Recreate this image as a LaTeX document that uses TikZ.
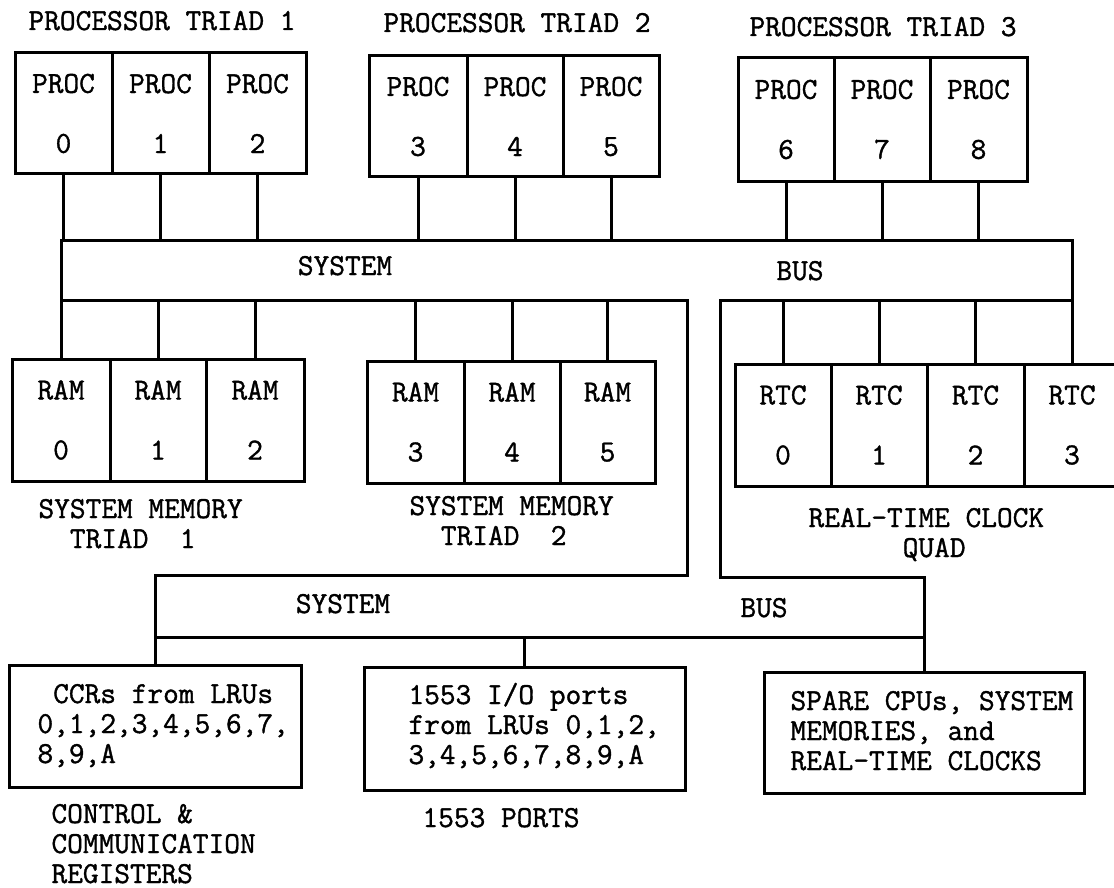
\documentclass[tikz,border=0pt]{standalone}
\usepackage{fontspec}
\newfontfamily\typfont[FakeBold=1.2]{Latin Modern Mono}
\begin{document}
\begin{tikzpicture}[x=1pt,y=-1pt,line width=3pt,
  every node/.style={font=\fontsize{30.5}{30}\selectfont\typfont, inner sep=0pt},
  cell/.style={draw, align=center, minimum height=122pt},
  tbox/.style={draw},
  lbl/.style={anchor=base west, align=left},
  ctr/.style={anchor=base}]
\useasboundingbox (0,0) rectangle (1114,888);
% titles
\node[lbl] (t1) at (27,30) {PROCESSOR TRIAD 1};
\node[lbl] (t2) at (382,32) {PROCESSOR TRIAD 2};
\node[lbl] (t3) at (748,36) {PROCESSOR TRIAD 3};
% processors
\node[cell, minimum width=97pt, minimum height=121pt] (p0) at (63.5,113.5) {PROC\\[30pt]0};
\node[cell, minimum width=97pt, minimum height=121pt] (p1) at (160.5,113.5) {PROC\\[30pt]1};
\node[cell, minimum width=97pt, minimum height=121pt] (p2) at (257.5,113.5) {PROC\\[30pt]2};
\node[cell, minimum width=98pt, minimum height=121pt] (p3) at (418,116.5) {PROC\\[30pt]3};
\node[cell, minimum width=96pt, minimum height=121pt] (p4) at (515,116.5) {PROC\\[30pt]4};
\node[cell, minimum width=96pt, minimum height=121pt] (p5) at (611,116.5) {PROC\\[30pt]5};
\node[cell, minimum width=96pt, minimum height=123pt] (p6) at (786,119.5) {PROC\\[30pt]6};
\node[cell, minimum width=96pt, minimum height=123pt] (p7) at (882,119.5) {PROC\\[30pt]7};
\node[cell, minimum width=97pt, minimum height=123pt] (p8) at (978.5,119.5) {PROC\\[30pt]8};
% RAMs
\node[cell, minimum width=98pt] (r0) at (61,420) {RAM\\[30pt]0};
\node[cell, minimum width=96pt] (r1) at (158,420) {RAM\\[30pt]1};
\node[cell, minimum width=98pt] (r2) at (255,420) {RAM\\[30pt]2};
\node[cell, minimum width=97pt] (r3) at (415.5,422) {RAM\\[30pt]3};
\node[cell, minimum width=96pt] (r4) at (512,422) {RAM\\[30pt]4};
\node[cell, minimum width=95pt] (r5) at (607.5,422) {RAM\\[30pt]5};
% RTCs
\node[cell, minimum width=96pt] (c0) at (783,425) {RTC\\[30pt]0};
\node[cell, minimum width=96pt] (c1) at (879,425) {RTC\\[30pt]1};
\node[cell, minimum width=97pt] (c2) at (975.5,425) {RTC\\[30pt]2};
\node[cell, minimum width=96pt] (c3) at (1072,425) {RTC\\[30pt]3};
% group labels (anchored at baseline of last line)
\node[lbl] (sm1) at (37,548) {SYSTEM MEMORY\\\ \ TRIAD\ \ 1};
\node[lbl] (sm2) at (408,545) {SYSTEM MEMORY\\\ \ TRIAD\ \ 2};
\node[lbl] (rq) at (807,557) {REAL-TIME CLOCK\\\ \ \ \ \ \ QUAD};
% bus coordinates
\coordinate (utop) at (0,240);
\coordinate (ubot) at (0,300);
\coordinate (mL) at (687,575);
\coordinate (mR) at (720,577);
\coordinate (lbot) at (0,637);
% lower boxes
\node[tbox, minimum width=292pt, minimum height=122pt] (ccr) at (155,726) {};
\node[tbox, minimum width=321pt, minimum height=123pt] (io) at (524.5,728.5) {};
\node[tbox, minimum width=320pt, minimum height=121pt] (spare) at (924,732.5) {};
\node[lbl] (ccrt) at (36,763) {\phantom{C}CCRs from LRUs\\0,1,2,3,4,5,6,7,\\8,9,A};
\node[lbl] (iot) at (407,764) {1553 I/O ports\\from LRUs 0,1,2,\\3,4,5,6,7,8,9,A};
\node[lbl] (sparet) at (789,770) {SPARE CPUs, SYSTEM\\MEMORIES, and\\REAL-TIME CLOCKS};
\node[lbl] (ccrl) at (50,883) {CONTROL \&\\COMMUNICATION\\REGISTERS};
\node[lbl] (iol) at (421,827) {1553 PORTS};
% bus labels
\node[ctr] (s1) at (345,275) {SYSTEM};
\node[ctr] (b1) at (800,280) {BUS};
\node[ctr] (s2) at (343,613) {SYSTEM};
\node[ctr] (b2) at (764,617) {BUS};
% upper bus outline
\draw (r0.north) |- (c3.north |- utop) -- (c3.north);
\draw (r0.north |- ubot) -| (mL) -| (ccr.north);
\draw (c3.north |- ubot) -| (mR) -| (spare.north);
% lower bus bottom
\draw (ccr.north |- lbot) -- (spare.north |- lbot);
% drops
\foreach \n in {p0,p1,p2,p3,p4,p5,p6,p7,p8}{\draw (\n.south) -- (\n.south |- utop);}
\foreach \n in {r1,r2,r3,r4,r5,c0,c1,c2}{\draw (\n.north) -- (\n.north |- ubot);}
\draw (io.north) -- (io.north |- lbot);
\end{tikzpicture}
\end{document}
